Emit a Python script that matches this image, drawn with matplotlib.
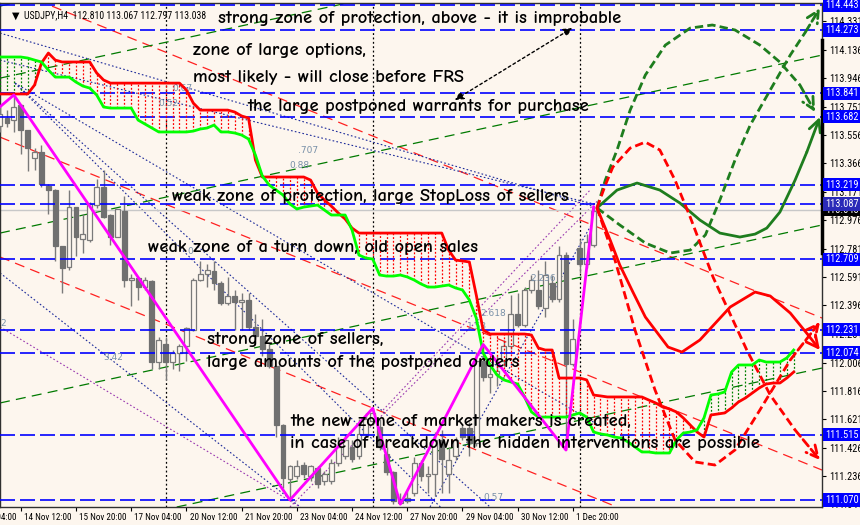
import numpy as np
import matplotlib.pyplot as plt
from matplotlib import rcParams
rcParams['font.family'] = 'DejaVu Sans'

bg = '#fdf6ee'
note_font = ['Comic Neue', 'DejaVu Sans']
scale_font = ['Roboto Condensed', 'Liberation Sans Narrow', 'DejaVu Sans']

# H4 candles, bar index -1..85
bar = list(range(-1, 86))
op = [113.62, 113.67, 113.66, 113.76, 113.59, 113.40, 113.44, 113.21, 113.18, 112.80,
      112.66, 113.07, 112.85, 112.84, 113.08, 113.20, 113.01, 112.86, 113.04, 112.57,
      112.58, 112.52, 112.56, 112.01, 112.13, 112.01, 112.07, 112.12, 112.23, 112.57,
      112.61, 112.63, 112.55, 112.41, 112.46, 112.42, 112.43, 112.25, 112.19, 112.10,
      111.98, 111.58, 111.21, 111.23, 111.31, 111.23, 111.29, 111.20, 111.20, 111.32,
      111.37, 111.43, 111.37, 111.52, 111.61, 111.57, 111.38, 111.26, 111.05, 111.06,
      111.12, 111.32, 111.23, 111.25, 111.48, 111.25, 111.37, 111.56, 111.56, 111.46,
      112.02, 111.91, 111.93, 112.02, 112.12, 112.34, 112.26, 112.50, 112.50, 112.38,
      112.55, 112.44, 112.74, 112.00, 112.79, 112.68, 112.810]
hi = [113.75, 113.73, 113.83, 113.77, 113.59, 113.47, 113.49, 113.22, 113.19, 112.80,
      113.18, 113.07, 113.02, 113.10, 113.26, 113.32, 113.02, 113.05, 113.14, 112.61,
      112.59, 112.59, 112.57, 112.18, 112.18, 112.09, 112.13, 112.25, 112.58, 112.70,
      112.68, 112.70, 112.56, 112.59, 112.50, 112.48, 112.48, 112.34, 112.30, 112.14,
      111.98, 111.59, 111.31, 111.34, 111.33, 111.31, 111.30, 111.27, 111.35, 111.50,
      111.52, 111.48, 111.62, 111.66, 111.695, 111.62, 111.43, 111.27, 111.12, 111.13,
      111.36, 111.34, 111.30, 111.53, 111.55, 111.43, 111.50, 111.58, 111.60, 112.08,
      112.13, 112.00, 112.05, 112.16, 112.47, 112.48, 112.52, 112.60, 112.64, 112.70,
      112.60, 112.80, 112.76, 112.30, 112.85, 112.88, 113.067]
lo = [113.58, 113.61, 113.58, 113.43, 113.31, 113.32, 113.20, 113.02, 112.70, 112.48,
      112.64, 112.73, 112.75, 112.83, 113.06, 112.99, 112.81, 112.86, 112.52, 112.39,
      112.43, 112.50, 111.96, 111.96, 111.89, 111.96, 111.95, 112.02, 112.22, 112.56,
      112.52, 112.50, 112.40, 112.40, 112.23, 112.23, 112.23, 112.17, 112.05, 111.97,
      111.50, 111.15, 111.07, 111.21, 111.22, 111.20, 111.15, 111.17, 111.18, 111.30,
      111.35, 111.33, 111.35, 111.50, 111.58, 111.41, 111.24, 111.04, 111.041, 111.05,
      111.10, 111.20, 111.12, 111.10, 111.12, 111.12, 111.34, 111.48, 111.37, 111.44,
      111.88, 111.80, 111.85, 111.98, 112.10, 112.25, 112.25, 112.48, 112.37, 112.32,
      112.42, 112.42, 111.41, 111.98, 112.62, 112.65, 112.797]
cl = [113.70, 113.64, 113.75, 113.59, 113.47, 113.44, 113.22, 113.18, 112.80, 112.65,
      113.07, 112.86, 112.88, 113.09, 113.20, 113.00, 112.86, 113.05, 112.57, 112.58,
      112.52, 112.57, 112.01, 112.16, 112.01, 112.07, 112.12, 112.24, 112.57, 112.61,
      112.64, 112.55, 112.41, 112.46, 112.42, 112.43, 112.25, 112.19, 112.10, 111.98,
      111.58, 111.22, 111.30, 111.30, 111.25, 111.30, 111.18, 111.25, 111.32, 111.43,
      111.48, 111.35, 111.52, 111.62, 111.66, 111.43, 111.26, 111.06, 111.07, 111.08,
      111.32, 111.23, 111.25, 111.48, 111.35, 111.34, 111.48, 111.50, 111.46, 112.02,
      111.91, 111.93, 111.95, 112.12, 112.34, 112.26, 112.50, 112.57, 112.39, 112.60,
      112.44, 112.74, 112.00, 112.17, 112.68, 112.83, 113.038]

# ichimoku cloud (shifted forward), bar index -1..114
cloud_bar = list(range(-1, 115))
span_b = [113.837, 113.837, 113.837, 113.837, 113.837, 113.898, 114.048, 114.116, 114.068, 114.055,
          114.055, 114.055, 114.055, 114.055, 113.980, 113.932, 113.911, 113.911, 113.911, 113.911,
          113.911, 113.911, 113.911, 113.911, 113.911, 113.911, 113.911, 113.864, 113.775, 113.727,
          113.727, 113.727, 113.727, 113.727, 113.714, 113.687, 113.673, 113.387, 113.271, 113.271,
          113.271, 113.271, 113.271, 113.271, 113.271, 113.250, 113.162, 113.114, 113.073, 113.026,
          112.985, 112.923, 112.889, 112.889, 112.889, 112.889, 112.889, 112.889, 112.889, 112.889,
          112.889, 112.889, 112.889, 112.889, 112.889, 112.773, 112.705, 112.699, 112.692, 112.467,
          112.228, 112.201, 112.201, 112.201, 112.201, 112.201, 112.201, 112.194, 112.106, 112.092,
          112.092, 111.901, 111.901, 111.901, 111.901, 111.888, 111.785, 111.779, 111.772, 111.772,
          111.772, 111.772, 111.772, 111.772, 111.751, 111.731, 111.704, 111.690, 111.670, 111.629,
          111.581, 111.533, 111.499, 111.649, 111.656, 111.663, 111.697, 111.738, 111.765, 111.799,
          111.833, 111.860, 111.867, 111.867, 111.901, 111.942]
span_a = [114.089, 114.089, 114.089, 114.089, 114.082, 114.068, 114.055, 114.000, 113.952, 113.952,
          113.952, 113.918, 113.891, 113.877, 113.830, 113.748, 113.741, 113.741, 113.741, 113.741,
          113.659, 113.632, 113.605, 113.578, 113.578, 113.578, 113.578, 113.578, 113.584, 113.598,
          113.605, 113.625, 113.578, 113.578, 113.571, 113.557, 113.530, 113.421, 113.278, 113.216,
          113.182, 113.148, 113.087, 113.053, 113.066, 113.073, 113.080, 113.046, 113.012, 113.012,
          113.012, 112.910, 112.739, 112.719, 112.712, 112.603, 112.596, 112.596, 112.603, 112.590,
          112.569, 112.542, 112.521, 112.521, 112.528, 112.535, 112.515, 112.501, 112.433, 112.310,
          112.072, 111.990, 111.922, 111.888, 111.874, 111.860, 111.772, 111.670, 111.635, 111.635,
          111.635, 111.635, 111.635, 111.649, 111.663, 111.635, 111.533, 111.520, 111.513, 111.499,
          111.492, 111.465, 111.431, 111.397, 111.397, 111.390, 111.390, 111.390, 111.479, 111.526,
          111.533, 111.547, 111.629, 111.785, 111.792, 111.806, 111.942, 111.990, 111.990, 111.990,
          112.024, 112.010, 112.010, 112.010, 112.038, 112.092]

# zigzag
zz_bar = [-3, 1, 41, 53, 57, 69, 81, 85]
zz_price = [113.67, 113.83, 111.07, 111.695, 111.041, 112.13, 111.41, 113.067]

# horizontal levels and price scale
levels = [114.443, 114.273, 113.841, 113.682, 113.219, 113.087, 112.709, 112.231, 112.074, 111.515, 111.070]
last_price = 113.048
scale_ticks = [114.331, 114.136, 113.946, 113.751, 113.556, 113.366, 113.171, 112.976, 112.781,
               112.591, 112.396, 112.201, 112.006, 111.816, 111.621, 111.426, 111.236, 111.041]

time_bars = [-6, 2, 10, 18, 26, 34, 42, 50, 58, 66, 74, 82]
time_labels = ['13 Nov 04:00', '14 Nov 12:00', '15 Nov 20:00', '17 Nov 04:00', '20 Nov 12:00',
               '21 Nov 20:00', '23 Nov 04:00', '24 Nov 12:00', '27 Nov 20:00', '29 Nov 04:00',
               '30 Nov 12:00', '1 Dec 20:00']
week_bars = [23, 53, 83]

# trend lines ((bar, price), (bar, price))
red_lines = [((4.35, 114.477), (118.1, 112.310)),
             ((-1.01, 113.543), (118.1, 111.274)),
             ((-1.01, 112.726), (88.4, 111.022))]
green_lines = [((-1.01, 114.436), (3.0, 114.477)),
               ((-1.01, 113.945), (51.3, 114.477)),
               ((-1.01, 112.889), (118.1, 114.102)),
               ((-1.01, 111.731), (118.1, 112.944)),
               ((24.6, 111.022), (118.1, 111.969))]
navy_lines = [((-1.01, 114.252), (85.7, 113.060)),
              ((-1.01, 114.068), (85.7, 113.080)),
              ((1.16, 113.911), (62.8, 111.022)),
              ((1.16, 113.911), (70.0, 111.022)),
              ((1.16, 113.911), (85.7, 111.581)),
              ((-1.01, 112.617), (42.5, 111.022)),
              ((61.3, 111.022), (85.9, 113.046))]
purple_lines = [((-1.01, 112.249), (42.5, 111.022)),
                ((41.0, 111.022), (85.7, 113.114)),
                ((54.5, 111.683), (84.5, 113.182))]

fib_labels = [('0.67', 23.9, 113.877), ('0.52', 21.9, 113.775), ('.707', 42.2, 113.455),
              ('0.88', 40.9, 113.350), ('2.618', 68.6, 112.344), ('2.236', 75.8, 112.576),
              ('1.53', 66.7, 112.249), ('3.42', 13.9, 112.044), ('2', -0.9, 112.27),
              ('0.57', 69.0, 111.09), ('0', 26.2, 112.76)]

# forecast paths
fc_green_bar = [85.5, 88.4, 91.3, 94.6, 97.5, 100.4, 103.3, 106.2, 108.4, 110.1, 112.0, 114.2, 115.9, 117.8]
fc_green = [113.060, 113.182, 113.230, 113.182, 113.094, 112.978, 112.889, 112.862, 112.882, 112.923,
            113.032, 113.250, 113.441, 113.680]
fc_gup_bar = [85.5, 86.7, 88.4, 90.3, 92.5, 95.4, 99.0, 102.2, 105.5, 109.1, 112.0, 114.9, 117.1]
fc_gup = [113.060, 113.250, 113.455, 113.727, 113.966, 114.170, 114.286, 114.307, 114.273, 114.170,
          114.054, 113.898, 113.714]
fc_gdn_bar = [85.5, 88.8, 92.5, 96.1, 99.0, 101.2, 103.3, 105.5, 107.7, 110.6, 113.5, 115.7, 117.8]
fc_gdn = [113.060, 112.944, 112.821, 112.753, 112.773, 112.876, 113.114, 113.387, 113.625, 113.864,
          114.102, 114.259, 114.422]
fc_red_bar = [85.5, 87.4, 88.8, 90.7, 92.5, 95.8, 97.8, 100.4, 104.8, 108.4, 110.6, 113.5, 116.1, 117.8]
fc_red = [113.060, 112.842, 112.671, 112.487, 112.317, 112.112, 112.078, 112.160, 112.385, 112.487,
          112.460, 112.344, 112.194, 112.092]
fc_rup_bar = [85.5, 86.7, 87.8, 90.3, 92.5, 94.6, 96.8, 99.0, 102.3, 107.2, 110.6, 114.2, 117.8]
fc_rup = [113.060, 113.216, 113.339, 113.468, 113.509, 113.455, 113.250, 112.998, 112.590, 112.092,
          111.785, 111.547, 111.342]
fc_rdn_bar = [85.5, 88.1, 91.0, 93.9, 96.8, 99.7, 102.6, 105.5, 109.1, 113.5, 117.8]
fc_rdn = [113.060, 112.705, 112.228, 111.820, 111.479, 111.329, 111.308, 111.411, 111.683, 112.024, 112.283]

notes = [('strong zone of protection, above - it is improbable', 30.6, 114.354),
         ('zone of large options,', 27.0, 114.136),
         ('most likely - will close before FRS', 27.0, 113.952),
         ('the large postponed warrants for purchase', 34.9, 113.755),
         ('weak zone of protection, large StopLoss of sellers', 23.9, 113.135),
         ('weak zone of a turn down, old open sales', 20.4, 112.794),
         ('strong zone of sellers,', 29.0, 112.167),
         ('large amounts of the postponed orders', 29.0, 112.010),
         ('the new zone of market makers is created,', 41.0, 111.608),
         ('in case of breakdown the hidden interventions are possible', 41.0, 111.458)]

# ---------------------------------------------------------------
fig = plt.figure(figsize=(8.6, 5.25), dpi=100)
fig.patch.set_facecolor(bg)
ax = fig.add_axes([0, 18 / 525, 822 / 860, 504 / 525])
ax.set_facecolor(bg)
ax.set_xlim(-1.01, 118.1)
ax.set_ylim(111.022, 114.457)

for w in week_bars:
    ax.axvline(w, color='black', lw=0.9, ls=(0, (1.5, 2)), zorder=1)

for (x1, y1), (x2, y2) in red_lines:
    ax.plot([x1, x2], [y1, y2], color='#ff2020', lw=0.9, ls=(0, (8, 5)), zorder=2)
for (x1, y1), (x2, y2) in green_lines:
    ax.plot([x1, x2], [y1, y2], color='#007a00', lw=0.9, ls=(0, (8, 5)), zorder=2)
for (x1, y1), (x2, y2) in navy_lines:
    ax.plot([x1, x2], [y1, y2], color='#1c2a9a', lw=0.8, ls=(0, (1.5, 2)), zorder=2)
for (x1, y1), (x2, y2) in purple_lines:
    ax.plot([x1, x2], [y1, y2], color='#9a3ab0', lw=0.8, ls=(0, (1.5, 2)), zorder=2)

ax.axhline(last_price, color='#c8c8c8', lw=1, zorder=2)

# candles
for k, o, h, l, c in zip(bar, op, hi, lo, cl):
    ax.vlines(k, l, h, color='#7a7a7a', lw=1, zorder=3)
    if c >= o:
        ax.bar(k, c - o, bottom=o, width=0.7, facecolor=bg, edgecolor='#7a7a7a', lw=0.9, zorder=4)
    else:
        ax.bar(k, o - c, bottom=c, width=0.7, facecolor='#707070', edgecolor='#707070', lw=0.9, zorder=4)

for lv in levels:
    ax.axhline(lv, color='#0000ff', lw=1.2, ls=(0, (9, 3)), zorder=5)

# cloud hatch and spans
a = np.array(span_a)
b = np.array(span_b)
hatch_col = ['#ff0000' if bb > aa else '#008000' for aa, bb in zip(a, b)]
ax.vlines(cloud_bar, np.minimum(a, b), np.maximum(a, b), colors=hatch_col, lw=0.9,
          linestyles=(0, (1.5, 1.5)), zorder=6)
ax.plot(cloud_bar, span_b, color='#ff0000', lw=2, zorder=7)
ax.plot(cloud_bar, span_a, color='#00ff00', lw=2, zorder=7)

ax.plot(zz_bar, zz_price, color='#ff00ff', lw=2, zorder=8)

for t, k, p in fib_labels:
    ax.text(k, p, t, fontsize=6.5, color='#7890a8', ha='left', va='center', zorder=6)


def path(xs, ys, col, ls):
    ax.plot(xs[:-1], ys[:-1], color=col, lw=2, ls=ls, zorder=9, solid_capstyle='round')
    ax.annotate('', xy=(xs[-1], ys[-1]), xytext=(xs[-2], ys[-2]), zorder=9,
                arrowprops=dict(arrowstyle='->,head_length=0.7,head_width=0.35', color=col,
                                lw=2, ls=ls, mutation_scale=12, shrinkA=0, shrinkB=0))


path(fc_green_bar, fc_green, '#1e7d1e', '-')
path(fc_gup_bar, fc_gup, '#1e7d1e', (0, (3, 1.5)))
path(fc_gdn_bar, fc_gdn, '#1e7d1e', (0, (3, 1.5)))
path(fc_red_bar, fc_red, '#ff0000', '-')
path(fc_rup_bar, fc_rup, '#ff0000', (0, (3, 1.5)))
path(fc_rdn_bar, fc_rdn, '#ff0000', (0, (3, 1.5)))

ax.annotate('', xy=(81.9, 114.286), xytext=(64.9, 113.796), zorder=9,
            arrowprops=dict(arrowstyle='<|-|>,head_length=0.5,head_width=0.25', color='black',
                            lw=1, ls=(0, (2, 2)), mutation_scale=10, shrinkA=0, shrinkB=0))

for t, k, p in notes:
    ax.text(k, p, t, fontsize=13.2, family=note_font, weight='bold', color='black',
            ha='left', va='center', zorder=10)

ax.text(12 / 822, (507 - 15) / 504, '\u25bc  USDJPY,H4  112.810 113.067 112.797 113.038',
        transform=ax.transAxes, fontsize=7, family=scale_font, color='black',
        ha='left', va='center', zorder=10)

# price scale
ax.yaxis.tick_right()
ax.set_yticks(scale_ticks)
ax.set_yticklabels(['%.3f' % v for v in scale_ticks], family=scale_font)
ax.tick_params(axis='y', direction='out', length=3, labelsize=7.5, pad=2, colors='black')
ytr = ax.get_yaxis_transform()
ax.text(1.0 + 3 / 822, last_price, '%.3f' % last_price, transform=ytr, fontsize=7.5,
        family=scale_font, color='white', ha='left', va='center', clip_on=False, zorder=11,
        bbox=dict(boxstyle='square,pad=0.12', fc='black', ec='none'))
for lv in levels:
    fc = '#2a2ab8' if lv == 113.087 else '#0000ff'
    ax.text(1.0 + 3 / 822, lv, '%.3f' % lv, transform=ytr, fontsize=7.5, family=scale_font,
            color='white', ha='left', va='center', clip_on=False, zorder=12,
            bbox=dict(boxstyle='square,pad=0.15', fc=fc, ec='none'))
ax.plot([1.0, 1.0], [112.753, 114.204], transform=ytr, color='black', lw=2.5, clip_on=False, zorder=11)

# time scale
ax.set_xticks(time_bars[1:])
ax.set_xticklabels([''] * len(time_bars[1:]))
ax.tick_params(axis='x', direction='out', length=3, colors='black')
xtr = ax.get_xaxis_transform()
for k, t in zip(time_bars, time_labels):
    ax.text(k + 0.45, -0.012, t, transform=xtr, fontsize=6.6, family=scale_font,
            ha='left', va='top', clip_on=False)

for s in ax.spines.values():
    s.set_color('#303030')
    s.set_linewidth(1)

fig.savefig('out.png', dpi=100, facecolor=bg)
